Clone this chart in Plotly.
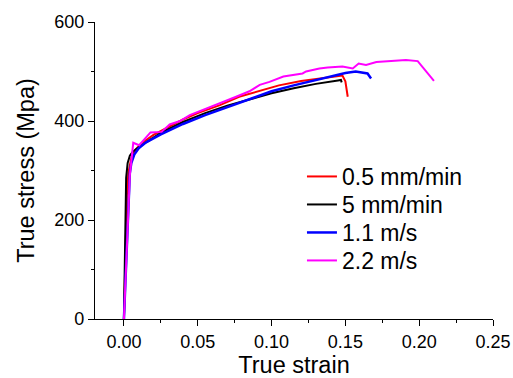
import plotly.graph_objects as go

# 0.5 mm/min
red_strain = [0, 0.001, 0.002, 0.003, 0.005, 0.008, 0.012, 0.02, 0.03, 0.04, 0.05, 0.065, 0.078, 0.09, 0.105, 0.12, 0.135, 0.148, 0.150, 0.1516]
red_stress = [0, 150, 250, 295, 325, 343, 355, 372, 388, 403, 416, 432, 449, 459, 472, 481, 487, 492, 480, 449]

# 5 mm/min
blk_strain = [0, 0.0005, 0.001, 0.0015, 0.0025, 0.004, 0.006, 0.009, 0.015, 0.025, 0.04, 0.055, 0.07, 0.085, 0.1, 0.115, 0.13, 0.145, 0.147, 0.1475]
blk_stress = [0, 130, 230, 285, 315, 330, 338, 345, 357, 376, 398, 416, 431, 444, 456, 466, 475, 482, 483, 478]

# 1.1 m/s
blu_strain = [0, 0.001, 0.002, 0.003, 0.004, 0.005, 0.007, 0.01, 0.015, 0.025, 0.04, 0.055, 0.07, 0.085, 0.1, 0.115, 0.13, 0.144, 0.150, 0.157, 0.165, 0.1674]
blu_stress = [0, 80, 170, 250, 295, 315, 332, 345, 357, 373, 394, 412, 428, 445, 460, 472, 483, 494, 497, 500, 496, 486]

# 2.2 m/s
pnk_strain = [0, 0.002, 0.004, 0.0063, 0.0103, 0.018, 0.0255, 0.031, 0.038, 0.0446, 0.049, 0.06, 0.076, 0.085, 0.092, 0.0986, 0.108, 0.121, 0.1234, 0.1324, 0.138, 0.148, 0.155, 0.159, 0.164, 0.171, 0.191, 0.199, 0.210]
pnk_stress = [0, 150, 290, 356, 351, 377, 378, 393, 400, 412, 417, 430, 449, 460, 473, 479, 490, 496, 500, 506, 508, 510, 506, 516, 513, 519, 523, 521, 481]

series = [
    ("0.5 mm/min", red_strain, red_stress, "#FF0000", 2),
    ("5 mm/min", blk_strain, blk_stress, "#000000", 2),
    ("1.1 m/s", blu_strain, blu_stress, "#0000FF", 2.5),
    ("2.2 m/s", pnk_strain, pnk_stress, "#FF00FF", 2),
]

x_ticks = [0.00, 0.05, 0.10, 0.15, 0.20, 0.25]
x_labels = ["0.00", "0.05", "0.10", "0.15", "0.20", "0.25"]
y_ticks = [0, 200, 400, 600]

legend_ids = ["legend", "legend2", "legend3", "legend4"]
legend_tops = [0.5522, 0.4579, 0.3636, 0.2694]

fig = go.Figure()
for (name, xs, ys, col, w), lid in zip(series, legend_ids):
    fig.add_trace(go.Scatter(x=xs, y=ys, mode="lines", name=name, legend=lid,
                             line=dict(color=col, width=w)))

font = "Liberation Sans, Arial, sans-serif"
legend_kw = {}
for lid, ly in zip(legend_ids, legend_tops):
    legend_kw[lid] = dict(x=0.52, y=ly, xanchor="left", yanchor="top",
                          font=dict(size=23, family=font, color="black"),
                          bgcolor="rgba(0,0,0,0)")

fig.update_layout(
    width=513, height=378,
    margin=dict(l=95, r=20, t=22, b=59),
    plot_bgcolor="white", paper_bgcolor="white",
    font=dict(family=font, color="black", size=18),
    showlegend=True,
    xaxis=dict(range=[-0.0196, 0.25], tickvals=x_ticks, ticktext=x_labels,
               automargin=False,
               showgrid=False, zeroline=False, showline=True, linecolor="black",
               linewidth=1.3, ticks="outside", ticklen=6, tickwidth=1.3,
               tickcolor="black", tickfont=dict(size=18),
               minor=dict(dtick=0.025, ticks="outside", ticklen=3, tickwidth=1.3, tickcolor="black"),
               title=dict(text="True strain", font=dict(size=23.5), standoff=15)),
    yaxis=dict(range=[0, 600], tickvals=y_ticks,
               automargin=False,
               showgrid=False, zeroline=False, showline=True, linecolor="black",
               linewidth=1.3, ticks="outside", ticklen=6, tickwidth=1.3,
               tickcolor="black", tickfont=dict(size=18),
               minor=dict(dtick=100, ticks="outside", ticklen=3, tickwidth=1.3, tickcolor="black"),
               title=dict(text="True stress (Mpa)", font=dict(size=23.5), standoff=12)),
    **legend_kw,
)

fig.write_html("out.html", config={"displayModeBar": False},
               post_script="document.body.style.margin='0';document.body.style.overflow='hidden';")
